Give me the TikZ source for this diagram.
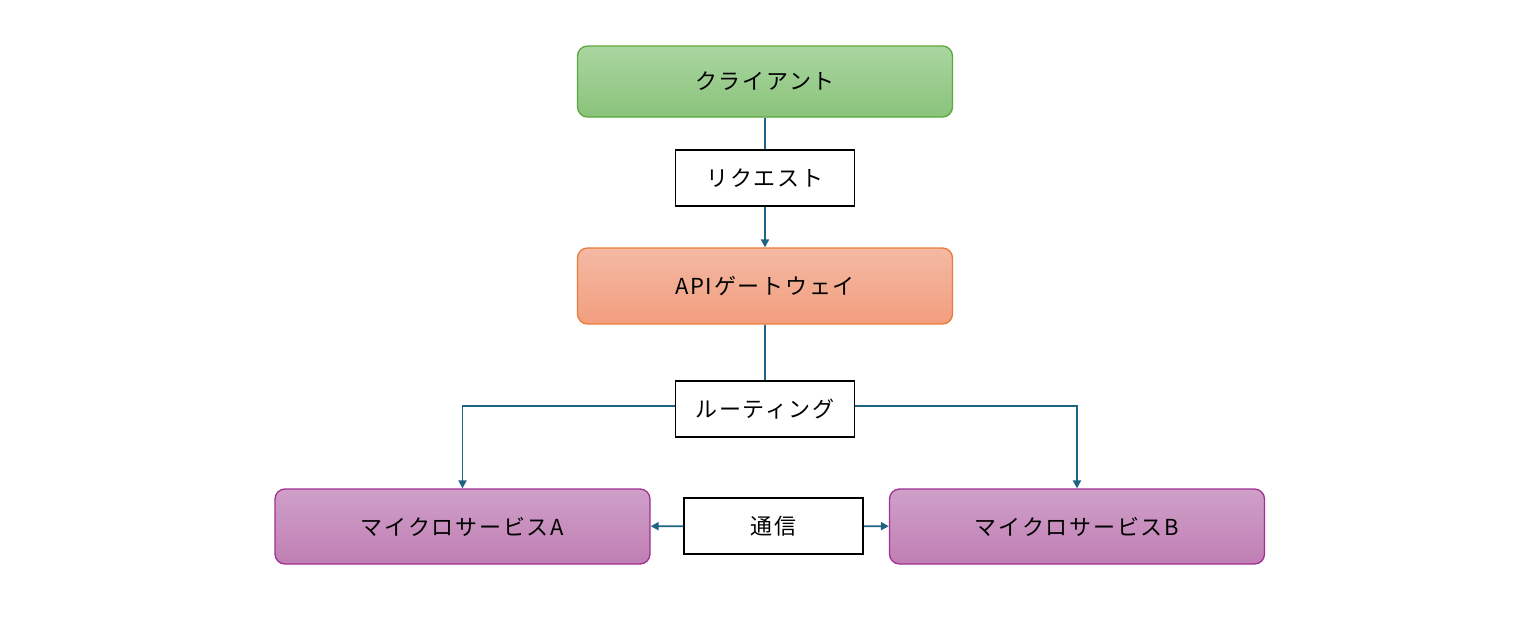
\documentclass[tikz,border=0pt]{standalone}
\usepackage{fontspec}
\setmainfont{Noto Sans CJK JP}[LetterSpace=8]
\usepackage{tikz}
\usetikzlibrary{arrows.meta}
\definecolor{linkc}{HTML}{1F6384}

\begin{document}
\begin{tikzpicture}[x=1pt,y=-1pt,
  box/.style={rounded corners=10pt, line width=1.3pt, minimum width=375pt, inner sep=0pt, font=\fontsize{22}{26}\selectfont},
  cbox/.style={box, draw={rgb,255:red,90;green,168;blue,62}, top color={rgb,255:red,170;green,214;blue,161}, bottom color={rgb,255:red,138;green,195;blue,122}},
  gbox/.style={box, draw={rgb,255:red,233;green,122;blue,58}, top color={rgb,255:red,244;green,185;blue,164}, bottom color={rgb,255:red,242;green,158;blue,126}},
  mbox/.style={box, draw={rgb,255:red,160;green,48;blue,145}, top color={rgb,255:red,207;green,160;blue,200}, bottom color={rgb,255:red,192;green,126;blue,180}},
  lbl/.style={draw=black, fill=white, line width=1.6pt, minimum width=179pt, minimum height=56pt, inner sep=0pt, font=\fontsize{22}{26}\selectfont},
  link/.style={draw=linkc, line width=1.8pt},
  tip/.style={-{Triangle[width=8pt,length=8pt]}}]
\useasboundingbox (0,0) rectangle (1540,624);

\node[cbox, minimum height=71pt] (client) at (765,81.5) {クライアント};
\node[lbl] (req) at (765,178) {リクエスト};
\node[gbox, minimum height=76pt] (gw) at (765,286) {APIゲートウェイ};
\node[lbl] (route) at (765,409) {ルーティング};
\node[mbox, minimum height=75pt] (msa) at (462.5,526.5) {マイクロサービスA};
\node[mbox, minimum height=75pt] (msb) at (1077,526.5) {マイクロサービスB};
\node[lbl] (comm) at (773.5,526) {通信};

\draw[link] (client) -- (req);
\draw[link, tip] (req) -- (gw);
\draw[link] (gw) -- (route);
\draw[link, tip] ([yshift=3pt]route.west) -| (msa.north);
\draw[link, tip] ([yshift=3pt]route.east) -| (msb.north);
\draw[link, tip] (comm) -- (msa);
\draw[link, tip] (comm) -- (msb);
\end{tikzpicture}
\end{document}
